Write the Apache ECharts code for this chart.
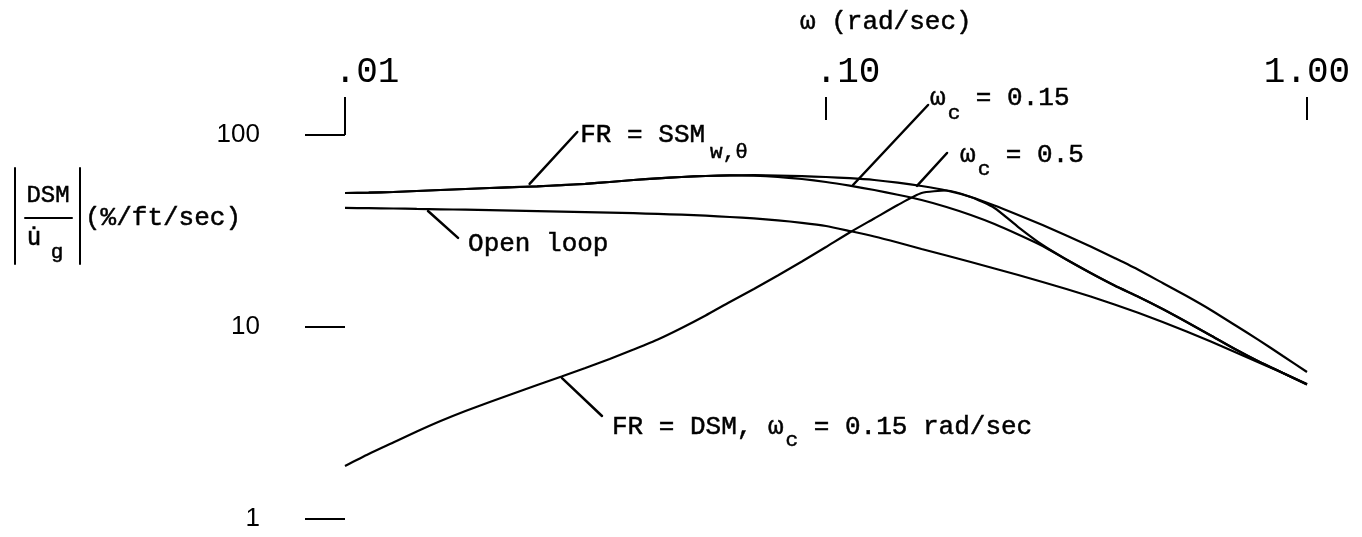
<!DOCTYPE html>
<html>
<head>
<meta charset="utf-8">
<script src="https://cdn.jsdelivr.net/npm/echarts@6/dist/echarts.min.js"></script>
<style>
  html, body { margin: 0; padding: 0; background: #fff; }
  #chart { width: 1362px; height: 537px; }
</style>
</head>
<body>
<div id="chart"></div>
<script>
// Frequency samples (rad/sec), twenty per decade, shared by every curve
const omega = [0.01, 0.0112, 0.0126, 0.0141, 0.0158, 0.0178, 0.02, 0.0224, 0.0251, 0.0282,
               0.0316, 0.0355, 0.0398, 0.0447, 0.0501, 0.0562, 0.0631, 0.0708, 0.0794, 0.0891,
               0.1, 0.112, 0.126, 0.141, 0.158, 0.178, 0.2, 0.224, 0.251, 0.282,
               0.316, 0.355, 0.398, 0.447, 0.501, 0.562, 0.631, 0.708, 0.794, 0.891, 1.0];

// |DSM / u_g| in %/ft/sec
const openLoop = [41.68, 41.57, 41.42, 41.22, 41.03, 40.83, 40.63, 40.39, 40.15, 39.91,
                  39.67, 39.43, 39.15, 38.82, 38.45, 37.99, 37.41, 36.75, 35.96, 34.89,
                  33.57, 31.62, 29.61, 27.55, 25.49, 23.57, 21.80, 20.17, 18.66, 17.16,
                  15.78, 14.42, 13.10, 11.83, 10.62, 9.48, 8.41, 7.41, 6.53, 5.76, 5.05];
const ssmWc05  = [49.88, 50.06, 50.48, 51.09, 51.70, 52.33, 52.96, 53.47, 54.05, 54.77,
                  55.70, 56.91, 58.30, 59.50, 60.43, 61.16, 61.60, 61.75, 61.53, 61.02,
                  60.43, 59.57, 58.30, 56.50, 54.26, 51.39, 47.54, 42.93, 38.31, 33.98,
                  29.98, 26.26, 22.87, 19.81, 16.95, 14.50, 12.27, 10.24, 8.55, 7.06, 5.83];
const ssmWc015 = [49.88, 50.06, 50.48, 51.09, 51.70, 52.33, 52.96, 53.47, 54.05, 54.77,
                  55.70, 56.91, 58.30, 59.50, 60.43, 61.16, 61.60, 61.45, 60.58, 58.98,
                  56.91, 54.45, 51.70, 48.82, 45.86, 42.17, 38.31, 34.39, 30.32, 26.41,
                  22.47, 19.11, 16.45, 14.33, 12.41, 10.62, 9.03, 7.68, 6.61, 5.76, 5.02];
const dsmWc015 = [1.888, 2.180, 2.503, 2.856, 3.239, 3.652, 4.068, 4.504, 4.988, 5.523,
                  6.115, 6.813, 7.636, 8.608, 9.881, 11.48, 13.50, 15.78, 18.54, 21.93,
                  26.10, 31.06, 36.75, 43.19, 49.88, 51.39, 47.54, 41.68, 33.17, 26.73,
                  22.47, 19.11, 16.45, 14.33, 12.41, 10.62, 9.03, 7.68, 6.61, 5.76, 5.02];

// Axis ticks and their printed labels
const xTicks = [0.01, 0.1, 1];
const xTickLabels = ['.01', '.10', '1.00'];
const yTicks = [1, 10, 100];
const yTickLabels = ['1', '10', '100'];

// Curve callouts: point on the curve and the outer end of the leader (data units)
const calloutAnchors = [[0.0242, 55.6], [0.01488, 40.2], [0.1138, 54.9], [0.1546, 54.3], [0.02826, 5.42]];
const calloutTips    = [[0.0304, 103.7], [0.01718, 29.1], [0.1630, 143.3], [0.1785, 80.6], [0.03422, 3.44]];

const MONO = '"Liberation Mono", "DejaVu Sans Mono", monospace';
const SANS = '"Liberation Sans", Arial, sans-serif';
const INK = '#000';

function pairUp(values) { return omega.map((w, i) => [w, values[i]]); }
function nearestIndex(list, v) {
  let best = 0;
  list.forEach((t, i) => {
    if (Math.abs(Math.log10(t) - Math.log10(v)) < Math.abs(Math.log10(list[best]) - Math.log10(v))) best = i;
  });
  return best;
}

const curveStyle = { color: INK, width: 2.2 };
function curve(name, values) {
  return {
    name, type: 'line', data: pairUp(values), showSymbol: false, symbol: 'none',
    smooth: 0.2, lineStyle: curveStyle, silent: true, clip: false
  };
}

const chart = echarts.init(document.getElementById('chart'), null, { renderer: 'canvas' });

chart.setOption({
  animation: false,
  backgroundColor: '#fff',
  grid: { left: 345, right: 55, top: 135, bottom: 18, containLabel: false, outerBoundsMode: 'none' },
  xAxis: [
    {
      type: 'log', logBase: 10, min: 0.01, max: 1, position: 'top', offset: 15,
      axisLine: { show: false },
      axisTick: { show: true, length: 23, lineStyle: { color: INK, width: 2 } },
      minorTick: { show: false }, splitLine: { show: false },
      axisLabel: {
        margin: 30, color: INK, fontFamily: MONO, fontSize: 36,
        formatter: v => {
          const i = nearestIndex(xTicks, v);
          return (i < 2 ? '{p|' : '{q|') + xTickLabels[i] + '}';
        },
        rich: {
          p: { fontFamily: MONO, fontSize: 36, color: INK, padding: [0, 0, 0, 44] },
          q: { fontFamily: MONO, fontSize: 36, color: INK }
        }
      }
    },
    {
      // lower extension of the .01 tick, joining the 100 tick
      type: 'log', logBase: 10, min: 0.01, max: 1, position: 'top', offset: 0,
      axisLine: { show: false }, axisLabel: { show: false }, splitLine: { show: false },
      axisTick: { show: true, length: 16, customValues: [0.01], lineStyle: { color: INK, width: 2 } }
    }
  ],
  yAxis: {
    type: 'log', logBase: 10, min: 1, max: 100,
    axisLine: { show: false },
    axisTick: { show: true, length: 40, lineStyle: { color: INK, width: 2 } },
    minorTick: { show: false }, splitLine: { show: false },
    axisLabel: {
      margin: 85, color: INK, fontFamily: SANS, fontSize: 26,
      formatter: v => yTickLabels[nearestIndex(yTicks, v)]
    }
  },
  series: [
    curve('Open loop', openLoop),
    curve('FR = SSM w,θ  ωc = 0.5', ssmWc05),
    curve('FR = SSM w,θ  ωc = 0.15', ssmWc015),
    curve('FR = DSM, ωc = 0.15 rad/sec', dsmWc015)
  ]
});

// ---- text and leaders ----
const FS = 26, SUB = 21, ADV = 0.6;   // monospace advance is 0.6 em

function txt(x, y, s, fs, align, family) {
  return {
    type: 'text', x, y, silent: true,
    style: { text: s, fontFamily: family || MONO, fontSize: fs, fill: INK,
             stroke: INK, lineWidth: 0.5,
             align: align || 'left', verticalAlign: 'middle' }
  };
}
function seg(x1, y1, x2, y2, w) {
  return { type: 'line', silent: true, shape: { x1, y1, x2, y2 },
           style: { stroke: INK, lineWidth: w || 2, lineCap: 'round' } };
}
// writes a run of pieces left to right; pieces may be lowered as subscripts
function run(x, y, pieces) {
  const out = [];
  let cx = x;
  pieces.forEach(p => {
    const fs = p.sub ? SUB : FS;
    out.push(txt(cx + (p.gap || 0), y + (p.dy || 0), p.t, fs));
    cx += (p.gap || 0) + p.t.length * fs * ADV;
  });
  return out;
}

const calloutText = [
  { dx: 3, dy: 3, pieces: [{ t: 'FR = SSM' }, { t: 'w,θ', sub: true, dy: 17, gap: 5 }] },
  { dx: 10, dy: 6, pieces: [{ t: 'Open loop' }] },
  { dx: 2, dy: -7, pieces: [{ t: 'ω' }, { t: 'c', sub: true, dy: 15, gap: 2 }, { t: ' = 0.15' }] },
  { dx: 13, dy: 2, pieces: [{ t: 'ω' }, { t: 'c', sub: true, dy: 14, gap: 2 }, { t: ' = 0.5' }] },
  { dx: 10, dy: 11, pieces: [{ t: 'FR = DSM, ω' }, { t: 'c', sub: true, dy: 13, gap: 2 }, { t: ' = 0.15 rad/sec' }] }
];

const els = [];
calloutAnchors.forEach((a, i) => {
  const pa = chart.convertToPixel({ xAxisIndex: 0, yAxisIndex: 0 }, a);
  const pt = chart.convertToPixel({ xAxisIndex: 0, yAxisIndex: 0 }, calloutTips[i]);
  els.push(seg(pa[0], pa[1], pt[0], pt[1], 2.5));
  const c = calloutText[i];
  run(pt[0] + c.dx, pt[1] + c.dy, c.pieces).forEach(e => els.push(e));
});

// horizontal axis title
els.push(txt(800, 22, 'ω (rad/sec)', FS));

// vertical axis title: |DSM / u̇g| (%/ft/sec)
els.push(seg(15, 168, 15, 264, 2));
els.push(seg(80, 168, 80, 264, 2));
els.push(txt(48, 196, 'DSM', 24, 'center'));
els.push(seg(25, 218, 72, 218, 2));
els.push(txt(34, 239, 'u\u0307', 24, 'center', '"DejaVu Sans Mono", monospace'));
els.push(txt(57, 252, 'g', 21, 'center'));
els.push(txt(85, 218, '(%/ft/sec)', FS));

chart.setOption({ graphic: { elements: els } });
</script>
</body>
</html>
